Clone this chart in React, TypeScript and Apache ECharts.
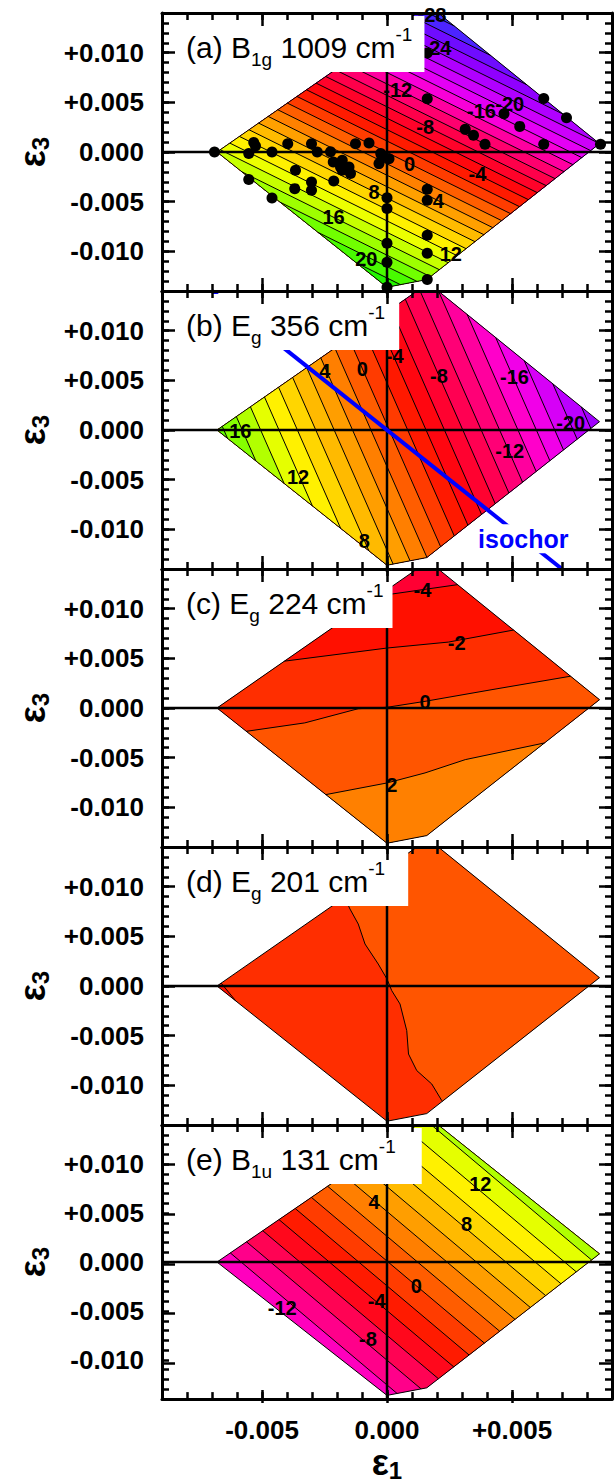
import React, { useEffect, useRef } from 'react';
import * as echarts from 'echarts';

type Pt = [number, number];
type Stop = [number, string];

const FONT = '"Liberation Sans", Arial, Helvetica, sans-serif';

// ---------- axes ----------
const xRange: Pt = [-0.009, 0.009];
const yRange: Pt = [-0.014, 0.014];
const minorStep = 0.001;
const xMajorTicks = [-0.005, 0, 0.005];
const yMajorTicks = [-0.01, -0.005, 0, 0.005, 0.01];

// ---------- data (strains in units of 1e-3) ----------
const domainMilli: Pt[] = [[-6.8, 0], [1.2, 14], [2.05, 14], [8.5, 0.84], [1.59, -12.85], [0, -13.62]];

const panelTitles = [
  '(a) B{sub|1g} 1009 cm{sup|-1}',
  '(b) E{sub|g} 356 cm{sup|-1}',
  '(c) E{sub|g} 224 cm{sup|-1}',
  '(d) E{sub|g} 201 cm{sup|-1}',
  '(e) B{sub|1u} 131 cm{sup|-1}',
];

// (a) B1g 1009: contour levels (cm-1 shift) and fitted plane [v0, dv/de1, dv/de3]
const levelsA = [-28, -26, -24, -22, -20, -18, -16, -14, -12, -10, -8, -6, -4, -2, 0, 2, 4, 6, 8, 10, 12, 14, 16, 18, 20, 22];
const planeA = [-0.08, -2.17, -1.74];
const stopsA: Stop[] = [[-28, '#3a30ff'], [-24, '#8000ff'], [-20, '#c000ff'], [-16, '#f000f0'], [-14, '#ff00c0'], [-12, '#ff0080'], [-8, '#ff0038'], [-4, '#ff0a00'], [0, '#ff4c00'], [4, '#ff9200'], [8, '#ffc800'], [12, '#ffff00'], [16, '#b4ff00'], [20, '#5aff00'], [24, '#10f000']];
const labelsA: [number, number, string][] = [[1.8, 13.75, '-28'], [2.0, 10.5, '-24'], [0.43, 6.2, '-12'], [1.53, 2.5, '-8'], [3.78, 4.13, '-16'], [4.91, 4.87, '-20'], [0.9, -1.17, '0'], [3.62, -2.25, '-4'], [-0.52, -4.03, '8'], [2.05, -4.97, '4'], [-2.14, -6.54, '16'], [2.55, -10.3, '12'], [-0.83, -10.74, '20']];
const dotsA: Pt[] = [
  [-6.9, 0], [-5.33, 0.96], [-5.26, 0.6], [-5.53, -0.16], [-4.6, 0], [-3.97, 0.83], [-3.02, 0.83], [-2.79, 0], [-2.26, 0.03],
  [-2.15, -1.0], [-1.79, -0.84], [-1.86, -1.5], [-1.52, -1.5], [-1.46, -2.17], [-1.79, -1.84], [-2.13, -2.92], [-3.66, -1.84],
  [-3.02, -3.02], [-3.02, -3.86], [-3.69, -3.69], [-5.53, -2.78], [-4.6, -4.63], [-1.26, 0.83], [-0.72, 0.9], [-0.25, -0.16],
  [0.08, -0.67], [-0.32, -1.17], [-0.2, -0.5], [0, -4.6], [0, -5.7], [0, -9.2], [0, -11.1], [0, -13.62], [1.61, -3.76],
  [1.61, -4.87], [1.61, -8.39], [1.61, -10.2], [1.61, -12.85], [1.61, 5.37], [1.61, 9.97], [3.13, 2.28], [3.46, 1.68],
  [3.92, 0.77], [4.68, 3.86], [5.31, 2.58], [6.27, 5.38], [6.27, 0.78], [7.18, 3.46], [8.54, 0.78],
];

// (b) Eg 356
const levelsB = [-22, -20, -18, -16, -14, -12, -10, -8, -6, -4, -2, 0, 2, 4, 6, 8, 10, 12, 14, 16, 18];
const planeB = [0.25, -2.72, -0.475];
const stopsB: Stop[] = [[-23, '#a000ff'], [-20, '#c800ff'], [-16, '#ff00e0'], [-12, '#ff0088'], [-8, '#ff0040'], [-4, '#ff0800'], [0, '#ff4c00'], [4, '#ff9000'], [8, '#ffc800'], [12, '#ffff00'], [16, '#98ff00'], [19, '#60ff00']];
const labelsB: [number, number, string][] = [[-5.87, -0.07, '16'], [-3.56, -4.77, '12'], [-0.91, -11.14, '8'], [-2.49, 5.97, '4'], [-0.99, 6.14, '0'], [0.31, 7.48, '-4'], [2.08, 5.47, '-8'], [5.1, 5.3, '-16'], [7.35, 0.7, '-20'], [4.91, -2.15, '-12']];
const isochorLine: Pt[] = [[-7.0, 14.0], [7.0, -14.0]];
const isochorLabelPos: Pt = [5.45, -10.95];

// (c) Eg 224: contour polylines (levels -4, -2, 0, 2)
const contoursC: Pt[][] = [
  [[-0.3, 11.3], [2.9, 12.45]],
  [[-4.16, 4.7], [0, 6.04], [2.46, 6.64], [5.06, 7.85]],
  [[-5.63, -2.35], [-3.29, -1.5], [-1.15, -0.07], [0, 0.07], [1.52, 0.67], [4.2, 1.85], [7.34, 3.2]],
  [[-2.44, -8.72], [0, -7.55], [1.52, -6.54], [3.13, -5.2], [6.3, -3.52]],
];
const sidesC = [1, 1, 1, 1];
const bandColorsC = ['#ff0033', '#ff1000', '#ff2e00', '#ff5500', '#ff8000'];
const labelsC: [number, number, string][] = [[1.42, 11.9, '-4'], [2.79, 6.54, '-2'], [1.52, 0.6, '0'], [0.19, -7.72, '2']];

// (d) Eg 201
const contoursD: Pt[][] = [
  [[-1.75, 9.2], [-1.48, 7.75], [-1.15, 6.24], [-0.88, 4.23], [-0.35, 2.21], [0, 0.7], [0.19, -0.47], [0.52, -1.81], [0.79, -4.5], [0.86, -6.85], [1.19, -8.52], [1.79, -9.87], [2.19, -11.54], [2.3, -11.8]],
  [[-6.62, 0.25], [-6.05, -1.5]],
];
const sidesD = [-1, 1];
const bandColorsD = ['#ff2e00', '#ff5500', '#ff1000'];

// (e) B1u 131
const levelsE = [-10, -8, -6, -4, -2, 0, 2, 4, 6, 8, 10, 12, 14];
const planeE = [-0.08, 1.7, 0.79];
const stopsE: Stop[] = [[-12, '#ff00d8'], [-8, '#ff0070'], [-4, '#ff0a00'], [0, '#ff4c00'], [4, '#ff9000'], [8, '#ffc800'], [12, '#ffff00'], [15, '#b0ff00']];
const labelsE: [number, number, string][] = [[3.73, 7.99, '12'], [-0.52, 6.14, '4'], [3.18, 3.86, '8'], [1.17, -2.42, '0'], [-0.41, -3.99, '-4'], [-4.19, -4.66, '-12'], [-0.76, -7.85, '-8']];

// ---------- layout ----------
const GRID_LEFT = 162;
const GRID_W = 450;
const PANEL_TOP0 = 13;
const PANEL_H = 278;
const titlePadRight = [12, 14, 9, 23, 26];

// ---------- helpers ----------
function hexToRgb(h: string): number[] {
  const n = parseInt(h.slice(1), 16);
  return [(n >> 16) & 255, (n >> 8) & 255, n & 255];
}
function colorAt(v: number, stops: Stop[]): string {
  if (v <= stops[0][0]) return stops[0][1];
  for (let i = 1; i < stops.length; i++) {
    if (v <= stops[i][0]) {
      const t = (v - stops[i - 1][0]) / (stops[i][0] - stops[i - 1][0]);
      const a = hexToRgb(stops[i - 1][1]);
      const b = hexToRgb(stops[i][1]);
      const c = a.map((x, k) => Math.round(x + t * (b[k] - x)));
      return `rgb(${c[0]},${c[1]},${c[2]})`;
    }
  }
  return stops[stops.length - 1][1];
}
function orient(poly: Pt[]): number {
  let a = 0;
  for (let i = 0; i < poly.length; i++) {
    const p = poly[i], q = poly[(i + 1) % poly.length];
    a += p[0] * q[1] - q[0] * p[1];
  }
  return a > 0 ? 1 : -1;
}
function clipPolygon(subject: Pt[], clip: Pt[]): Pt[] {
  const s = orient(clip);
  let output = subject;
  for (let i = 0; i < clip.length; i++) {
    const a = clip[i], b = clip[(i + 1) % clip.length];
    const f = (p: Pt) => s * ((b[0] - a[0]) * (p[1] - a[1]) - (b[1] - a[1]) * (p[0] - a[0]));
    const input = output;
    output = [];
    if (!input.length) break;
    for (let j = 0; j < input.length; j++) {
      const cur = input[j], prev = input[(j + input.length - 1) % input.length];
      const fc = f(cur), fp = f(prev);
      const inter = (): Pt => {
        const t = fp / (fp - fc);
        return [prev[0] + t * (cur[0] - prev[0]), prev[1] + t * (cur[1] - prev[1])];
      };
      if (fc >= 0) {
        if (fp < 0) output.push(inter());
        output.push(cur);
      } else if (fp >= 0) output.push(inter());
    }
  }
  return output;
}
function clipSegment(p: Pt, q: Pt, clip: Pt[]): [Pt, Pt] | null {
  const s = orient(clip);
  let t0 = 0, t1 = 1;
  const dx = q[0] - p[0], dy = q[1] - p[1];
  for (let i = 0; i < clip.length; i++) {
    const a = clip[i], b = clip[(i + 1) % clip.length];
    const ex = b[0] - a[0], ey = b[1] - a[1];
    const num = s * (ex * (p[1] - a[1]) - ey * (p[0] - a[0]));
    const den = s * (ex * dy - ey * dx);
    if (Math.abs(den) < 1e-12) {
      if (num < 0) return null;
      continue;
    }
    const t = -num / den;
    if (den > 0) t0 = Math.max(t0, t);
    else t1 = Math.min(t1, t);
    if (t0 > t1) return null;
  }
  return [[p[0] + t0 * dx, p[1] + t0 * dy], [p[0] + t1 * dx, p[1] + t1 * dy]];
}
function sideRegion(pts: Pt[], side: number): Pt[] {
  const p0 = pts[0], pn = pts[pts.length - 1];
  let dx = pn[0] - p0[0], dy = pn[1] - p0[1];
  const L = Math.hypot(dx, dy);
  dx /= L; dy /= L;
  const nx = side * dy, ny = -side * dx;
  const E = 200;
  const a: Pt = [p0[0] - dx * E, p0[1] - dy * E];
  const b: Pt = [pn[0] + dx * E, pn[1] + dy * E];
  return [a, ...pts, b, [b[0] + nx * E, b[1] + ny * E], [a[0] + nx * E, a[1] + ny * E]];
}
function extendEnds(pts: Pt[], d: number): Pt[] {
  const out = pts.map((p) => [p[0], p[1]] as Pt);
  const n = out.length;
  const ext = (a: Pt, b: Pt): Pt => {
    const vx = a[0] - b[0], vy = a[1] - b[1];
    const l = Math.hypot(vx, vy) || 1;
    return [a[0] + (vx / l) * d, a[1] + (vy / l) * d];
  };
  out[0] = ext(pts[0], pts[1]);
  out[n - 1] = ext(pts[n - 1], pts[n - 2]);
  return out;
}

interface Layer { pts: Pt[]; side: number; color: string; }
interface PanelSpec { base: string; layers: Layer[]; labels: [number, number, string][]; }

function planeSpec(levels: number[], plane: number[], stops: Stop[], labels: [number, number, string][]): PanelSpec {
  const [v0, gx, gy] = plane;
  const g2 = gx * gx + gy * gy, gl = Math.sqrt(g2);
  const D: Pt = [-gy / gl, gx / gl];
  const step = levels[1] - levels[0];
  const bandColor = (i: number) => {
    const lo = i < 0 ? levels[0] - step : levels[i];
    return colorAt(lo + step / 2, stops);
  };
  const layers = levels.map((l, i) => {
    const c = (l - v0) / g2;
    const p: Pt = [gx * c, gy * c];
    const pts: Pt[] = [[p[0] - D[0] * 60, p[1] - D[1] * 60], [p[0] + D[0] * 60, p[1] + D[1] * 60]];
    return { pts, side: 1, color: bandColor(i) };
  });
  return { base: bandColor(-1), layers, labels };
}
function polySpec(contours: Pt[][], sides: number[], colors: string[], labels: [number, number, string][]): PanelSpec {
  return {
    base: colors[0],
    layers: contours.map((pts, i) => ({ pts, side: sides[i], color: colors[i + 1] })),
    labels,
  };
}

const panelSpecs: PanelSpec[] = [
  planeSpec(levelsA, planeA, stopsA, labelsA),
  planeSpec(levelsB, planeB, stopsB, labelsB),
  polySpec(contoursC, sidesC, bandColorsC, labelsC),
  polySpec(contoursD, sidesD, bandColorsD, []),
  planeSpec(levelsE, planeE, stopsE, labelsE),
];

const toStrain = (p: Pt): number[] => [p[0] / 1000, p[1] / 1000];

function makeRenderItem(spec: PanelSpec) {
  return (_params: any, api: any) => {
    const px = (p: Pt) => api.coord(toStrain(p));
    const children: any[] = [];
    children.push({ type: 'polygon', shape: { points: domainMilli.map(px) }, style: { fill: spec.base } });
    spec.layers.forEach((layer) => {
      const poly = clipPolygon(sideRegion(layer.pts, layer.side), domainMilli);
      if (poly.length >= 3) children.push({ type: 'polygon', shape: { points: poly.map(px) }, style: { fill: layer.color } });
    });
    spec.layers.forEach((layer) => {
      const pts = extendEnds(layer.pts, 1.5);
      for (let k = 0; k < pts.length - 1; k++) {
        const seg = clipSegment(pts[k], pts[k + 1], domainMilli);
        if (!seg) continue;
        const a = px(seg[0]), b = px(seg[1]);
        children.push({ type: 'line', shape: { x1: a[0], y1: a[1], x2: b[0], y2: b[1] }, style: { stroke: '#000', lineWidth: 1 } });
      }
    });
    children.push({ type: 'polygon', shape: { points: domainMilli.map(px) }, style: { fill: 'none', stroke: '#000', lineWidth: 1 } });
    const h0 = api.coord([xRange[0], 0]), h1 = api.coord([xRange[1], 0]);
    const v0 = api.coord([0, yRange[0]]), v1 = api.coord([0, yRange[1]]);
    children.push({ type: 'line', shape: { x1: h0[0], y1: h0[1], x2: h1[0], y2: h1[1] }, style: { stroke: '#000', lineWidth: 2.5 } });
    children.push({ type: 'line', shape: { x1: v0[0], y1: v0[1], x2: v1[0], y2: v1[1] }, style: { stroke: '#000', lineWidth: 2.5 } });
    spec.labels.forEach(([x, y, t]) => {
      const p = px([x, y]);
      children.push({
        type: 'text', x: p[0], y: p[1],
        style: { text: t, fill: '#000', font: `bold 20px ${FONT}`, align: 'center', verticalAlign: 'middle' },
      });
    });
    return { type: 'group', children };
  };
}

const fmt = (v: number) => {
  const r = Math.round(v * 1000);
  if (r % 5 !== 0) return '';
  if (r === 0) return '0.000';
  return (r > 0 ? '+' : '-') + (Math.abs(r) / 1000).toFixed(3);
};

function buildOption() {
  const grid: any[] = [];
  const xAxis: any[] = [];
  const yAxis: any[] = [];
  const title: any[] = [];
  const series: any[] = [];
  const frame = { color: '#000', width: 3 };
  const tickLS = { color: '#000', width: 2.5 };
  const labelStyle = { fontFamily: FONT, fontSize: 26, fontWeight: 'bold', color: '#000', margin: 18 };
  const nameRich = {
    e: { fontFamily: FONT, fontSize: 36, fontWeight: 'bold', color: '#000', lineHeight: 40 },
    s: { fontFamily: FONT, fontSize: 24, fontWeight: 'bold', color: '#000', lineHeight: 14, verticalAlign: 'bottom' },
  };

  for (let i = 0; i < 5; i++) {
    const top = PANEL_TOP0 + i * PANEL_H;
    const g = { left: GRID_LEFT, top, width: GRID_W, height: PANEL_H };
    grid.push({ ...g }, { ...g });
    const last = i === 4;
    const xBase = { type: 'value', min: xRange[0], max: xRange[1], interval: minorStep, z: 7, splitLine: { show: false } };
    const yBase = { type: 'value', min: yRange[0], max: yRange[1], interval: minorStep, z: 7, splitLine: { show: false } };
    xAxis.push({
      ...xBase, gridIndex: 2 * i, position: 'bottom',
      axisLine: { show: true, onZero: false, lineStyle: frame },
      axisTick: { show: true, inside: true, length: 7, lineStyle: tickLS },
      axisLabel: { show: last, customValues: xMajorTicks, formatter: fmt, ...labelStyle },
      ...(last ? { name: '{e|ε}{s|1}', nameLocation: 'middle', nameGap: 38, nameTextStyle: { rich: nameRich } } : {}),
    });
    xAxis.push({
      ...xBase, gridIndex: 2 * i, position: 'top',
      axisLine: { show: true, onZero: false, lineStyle: frame },
      axisTick: { show: true, inside: true, length: 7, lineStyle: tickLS },
      axisLabel: { show: false },
    });
    xAxis.push({
      ...xBase, gridIndex: 2 * i + 1, position: 'bottom',
      axisLine: { show: false, onZero: false },
      axisTick: { show: true, inside: true, length: 13, lineStyle: tickLS, customValues: xMajorTicks },
      axisLabel: { show: false },
    });
    xAxis.push({
      ...xBase, gridIndex: 2 * i + 1, position: 'top',
      axisLine: { show: false, onZero: false },
      axisTick: { show: true, inside: true, length: 13, lineStyle: tickLS, customValues: xMajorTicks },
      axisLabel: { show: false },
    });
    yAxis.push({
      ...yBase, gridIndex: 2 * i, position: 'left',
      axisLine: { show: true, onZero: false, lineStyle: frame },
      axisTick: { show: true, inside: true, length: 7, lineStyle: tickLS },
      axisLabel: { show: true, customValues: yMajorTicks, formatter: fmt, ...labelStyle },
      name: '{e|ε}{s|3}', nameLocation: 'middle', nameRotate: 90, nameGap: 110, nameTextStyle: { rich: nameRich },
    });
    yAxis.push({
      ...yBase, gridIndex: 2 * i, position: 'right',
      axisLine: { show: true, onZero: false, lineStyle: frame },
      axisTick: { show: true, inside: true, length: 7, lineStyle: tickLS },
      axisLabel: { show: false },
    });
    yAxis.push({
      ...yBase, gridIndex: 2 * i + 1, position: 'left',
      axisLine: { show: false, onZero: false },
      axisTick: { show: true, inside: true, length: 13, lineStyle: tickLS, customValues: yMajorTicks },
      axisLabel: { show: false },
    });
    yAxis.push({
      ...yBase, gridIndex: 2 * i + 1, position: 'right',
      axisLine: { show: false, onZero: false },
      axisTick: { show: true, inside: true, length: 13, lineStyle: tickLS, customValues: yMajorTicks },
      axisLabel: { show: false },
    });

    title.push({
      text: panelTitles[i], left: 174, top: top + 3,
      backgroundColor: '#fff', padding: [9, titlePadRight[i], 3, 12], z: 6,
      textStyle: {
        fontFamily: FONT, fontSize: 30, fontWeight: 'normal', color: '#000', lineHeight: 44,
        rich: {
          sub: { fontFamily: FONT, fontSize: 19, color: '#000', lineHeight: 22, verticalAlign: 'bottom' },
          sup: { fontFamily: FONT, fontSize: 19, color: '#000', lineHeight: 29, verticalAlign: 'top' },
        },
      },
    });

    series.push({
      type: 'custom', xAxisIndex: 4 * i, yAxisIndex: 4 * i, z: 2, silent: true, clip: false,
      data: [[0, 0]], renderItem: makeRenderItem(panelSpecs[i]),
    });
  }

  series.push({
    type: 'scatter', xAxisIndex: 0, yAxisIndex: 0, z: 4, silent: true,
    symbol: 'circle', symbolSize: 11, itemStyle: { color: '#000', opacity: 1 },
    data: dotsA.map(toStrain),
  });
  series.push({
    type: 'line', xAxisIndex: 4, yAxisIndex: 4, z: 3, silent: true, symbol: 'none',
    lineStyle: { color: '#0000ff', width: 4, opacity: 1 }, data: isochorLine.map(toStrain),
  });
  series.push({
    type: 'scatter', xAxisIndex: 4, yAxisIndex: 4, z: 5, silent: true, symbolSize: 1,
    itemStyle: { color: '#fff', opacity: 1 },
    label: {
      show: true, position: 'inside', formatter: 'isochor', color: '#0000ff', opacity: 1, fontFamily: FONT,
      fontSize: 25, fontWeight: 'bold', backgroundColor: '#fff', padding: [2, 3],
    },
    data: [toStrain(isochorLabelPos)],
  });

  return { animation: false, backgroundColor: '#fff', grid, xAxis, yAxis, title, series };
}

export default function App() {
  const ref = useRef<HTMLDivElement>(null);
  useEffect(() => {
    const chart = echarts.init(ref.current as HTMLDivElement, undefined, { renderer: 'svg' });
    chart.setOption(buildOption() as any);
    return () => chart.dispose();
  }, []);
  return <div ref={ref} style={{ position: 'absolute', left: 0, top: 0, width: 616, height: 1483, background: '#fff' }} />;
}
